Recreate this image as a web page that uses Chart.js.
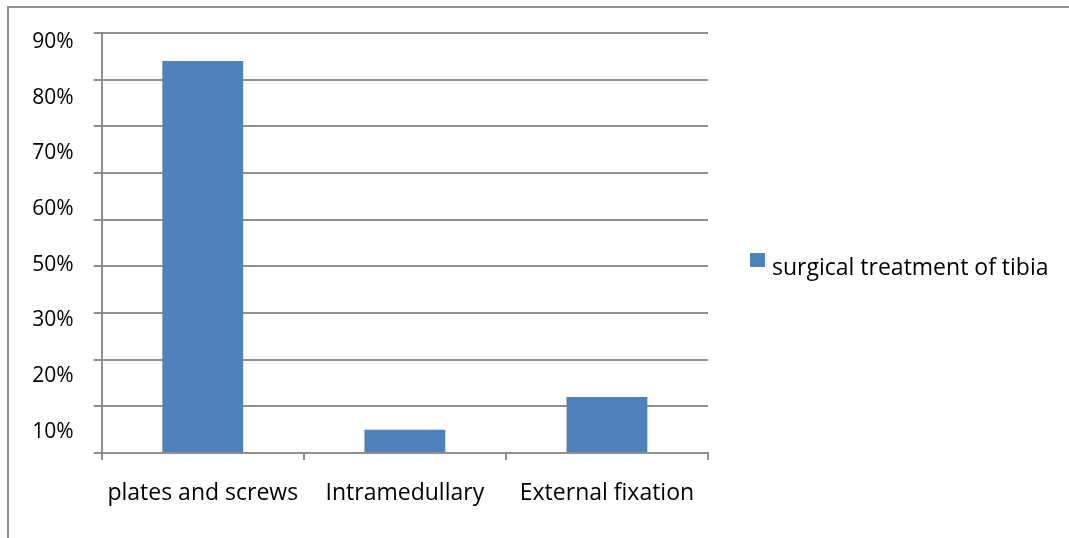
<!DOCTYPE html>
<html>
<head>
<meta charset="utf-8">
<script src="https://cdn.jsdelivr.net/npm/chart.js@4/dist/chart.umd.min.js"></script>
<style>
  html, body { margin: 0; padding: 0; background: #fff; }
  #wrap { width: 1069px; height: 538px; }
</style>
</head>
<body>
<div id="wrap"><canvas id="c" width="1069" height="538"></canvas></div>
<script>
// Chart data
const categories = ['plates and screws', 'Intramedullary', 'External fixation'];
const seriesName = 'surgical treatment of tibia';
const seriesValues = [84, 5, 12];
// Percent labels printed along the value axis
const yTickLabels = ['90%', '80%', '70%', '60%', '50%', '30%', '20%', '10%'];

const FONT = '"Open Sans", "Noto Sans", sans-serif';
const GRID = '#8e8e8e';
const BAR = '#4f81bd';

// Outer frame lines around the figure
const framePlugin = {
  id: 'frame',
  beforeDraw(chart) {
    const ctx = chart.ctx;
    ctx.save();
    ctx.fillStyle = '#fff';
    ctx.fillRect(0, 0, chart.width, chart.height);
    ctx.strokeStyle = GRID;
    ctx.lineWidth = 2;
    ctx.beginPath();
    ctx.moveTo(chart.width, 7);
    ctx.lineTo(8, 7);
    ctx.lineTo(8, chart.height);
    ctx.stroke();
    ctx.restore();
  }
};

// Legend to the right of the plot: a square swatch sitting a little above the text line
const sideLegend = {
  id: 'sideLegend',
  afterDraw(chart, args, opts) {
    const ctx = chart.ctx;
    const area = chart.chartArea;
    ctx.save();
    chart.data.datasets.forEach((ds, i) => {
      const x = area.right + opts.offsetX;
      const y = opts.top + i * opts.rowHeight;
      ctx.fillStyle = ds.backgroundColor;
      ctx.fillRect(x, y, opts.boxWidth, opts.boxHeight);
      ctx.fillStyle = '#000';
      ctx.font = opts.font;
      ctx.textAlign = 'left';
      ctx.textBaseline = 'alphabetic';
      ctx.fillText(ds.label, x + opts.boxWidth + opts.gap, y + opts.baseline);
    });
    ctx.restore();
  }
};

new Chart(document.getElementById('c'), {
  type: 'bar',
  data: {
    labels: categories,
    datasets: [{
      label: seriesName,
      data: seriesValues,
      backgroundColor: BAR,
      borderWidth: 0,
      barPercentage: 0.4,
      categoryPercentage: 1.0,
      yAxisID: 'y'
    }]
  },
  options: {
    responsive: false,
    animation: false,
    devicePixelRatio: 1,
    layout: { padding: { top: 33, left: 10, right: 361, bottom: 0 } },
    plugins: {
      tooltip: { enabled: false },
      legend: { display: false },
      sideLegend: {
        offsetX: 42,
        top: 253,
        rowHeight: 30,
        boxWidth: 15,
        boxHeight: 14,
        gap: 7,
        baseline: 22,
        font: '23px ' + FONT
      }
    },
    scales: {
      x: {
        grid: {
          display: true,
          offset: true,
          drawOnChartArea: false,
          drawTicks: true,
          tickLength: 7,
          color: GRID,
          lineWidth: 2
        },
        border: { display: true, color: GRID, width: 2 },
        ticks: {
          color: '#000',
          padding: 20,
          maxRotation: 0,
          font: { family: FONT, size: 23 }
        },
        afterFit(scale) { scale.height = 85; }
      },
      y: {
        position: 'left',
        weight: 0,
        min: 0,
        max: 90,
        ticks: { stepSize: 10, display: false },
        grid: { color: GRID, lineWidth: 2, drawTicks: true, tickLength: 8 },
        border: { display: true, color: GRID, width: 2 },
        afterFit(scale) { scale.width = 8; }
      },
      yLabels: {
        type: 'linear',
        position: 'left',
        weight: 1,
        reverse: true,
        min: -0.16,
        max: 7.38,
        grid: { display: false, drawTicks: false },
        border: { display: false },
        ticks: {
          color: '#000',
          padding: 20,
          font: { family: FONT, size: 21 },
          callback: (v) => yTickLabels[v] ?? ''
        },
        afterBuildTicks(scale) {
          scale.ticks = yTickLabels.map((_, i) => ({ value: i }));
        },
        afterFit(scale) { scale.width = 83.7; }
      }
    }
  },
  plugins: [framePlugin, sideLegend]
});
</script>
</body>
</html>
